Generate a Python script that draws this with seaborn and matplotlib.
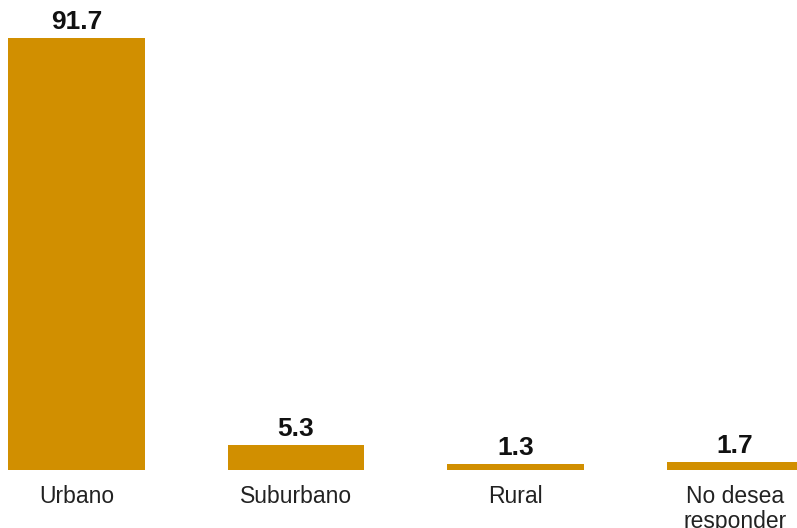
import matplotlib
matplotlib.use("Agg")
import matplotlib.pyplot as plt
import seaborn as sns
import pandas as pd

categories = ["Urbano", "Suburbano", "Rural", "No desea\nresponder"]
values = [91.7, 5.3, 1.3, 1.7]
labels = ["91.7", "5.3", "1.3", "1.7"]

sns.set_theme(style="white")
plt.rcParams['font.family'] = ['Liberation Sans', 'DejaVu Sans']

df = pd.DataFrame({"cat": categories, "val": values})

fig = plt.figure(figsize=(7.97, 5.28), dpi=100)
ax = fig.add_axes([0, 58/528, 1, 470/528])
sns.barplot(data=df, x="cat", y="val", color="#D18F00", saturation=1,
            width=0.624, ax=ax, linewidth=0)
ax.bar_label(ax.containers[0], labels=labels, padding=3,
             fontsize=19, fontweight="bold", color="#111111")
ax.set_xlim(-0.3485, 3.2825)
ax.set_ylim(0, 99.8)
ax.set_xlabel("")
ax.set_ylabel("")
ax.set_yticks([])
for s in ax.spines.values():
    s.set_visible(False)
ax.tick_params(axis="x", length=0, pad=11, labelsize=16.5, labelcolor="#222222")
for t in ax.get_xticklabels():
    t.set_linespacing(1.1)
fig.savefig("out.png", dpi=100)
